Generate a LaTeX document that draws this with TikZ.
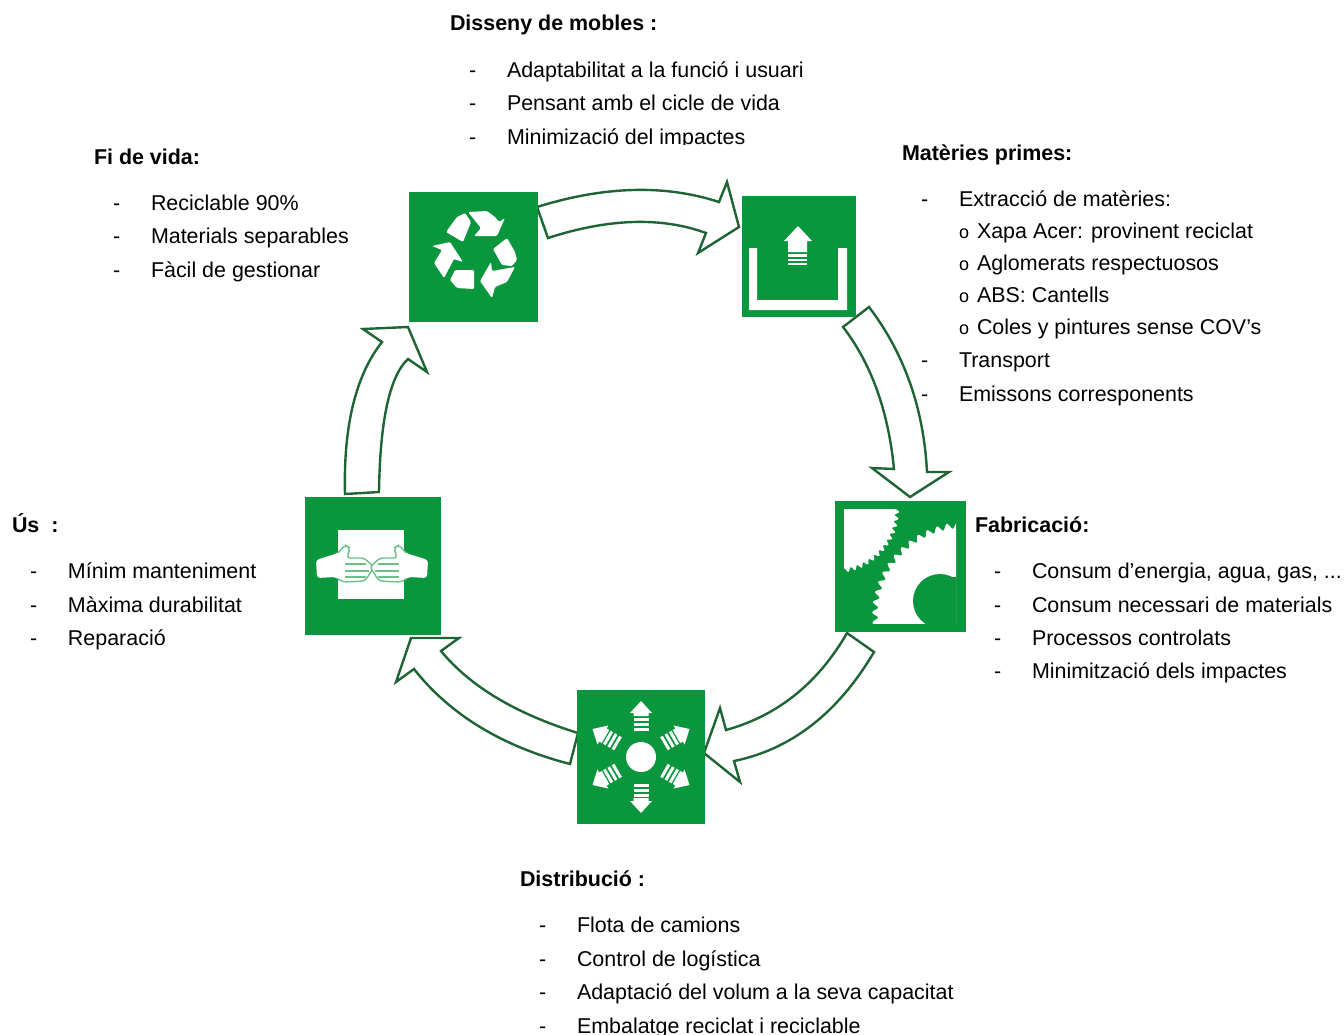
\documentclass[tikz,border=0pt]{standalone}
\usepackage{fontspec}
\setmainfont{Liberation Sans}
\definecolor{igreen}{RGB}{9,150,60}
\definecolor{arrowgreen}{RGB}{30,100,52}
\definecolor{linegreen}{RGB}{110,190,135}
\tikzset{
  iconbox/.style={fill=igreen,draw=none,inner sep=0pt,outer sep=0pt},
  blockarrow/.style={draw=arrowgreen,fill=white,line width=1.2pt,line join=miter},
  txt/.style={anchor=base west,inner sep=0pt,outer sep=0pt,font=\fontsize{10.72}{13}\selectfont,text=black},
  head/.style={txt,font=\fontsize{10.72}{13}\selectfont\bfseries},
  glyph/.style={fill=white,draw=none}
}
\newcommand{\handpic}{%
  \fill[glyph,rounded corners=1.5pt] (316,560) -- (338,553) -- (345,545) -- (350,548) -- (347,558) -- (364,558) -- (374,567) -- (365,581) -- (343,582) -- (335,577) -- (317,578) -- cycle;
  \draw[linegreen,line width=0.7pt,rounded corners=1.5pt] (338,553) -- (345,545) -- (350,548) -- (347,558) -- (364,558) -- (374,567) -- (365,581) -- (343,582) -- (338,579);
  \draw[linegreen,line width=0.7pt] (345,564) -- (366,564) (345,571) -- (369,571) (345,577) -- (366,577);
}
\newcommand{\bul}{\makebox[9pt][l]{\fontsize{9}{9}\selectfont o}}
\begin{document}
\begin{tikzpicture}[x=0.5pt,y=-0.5pt]
\useasboundingbox (0,0) rectangle (1344,1034);
\fill[white] (0,0) rectangle (1344,1034);

% block arrows
\draw[blockarrow] (537,207) .. controls (604.3,186) and (665,184.3) .. (719,202) -- (727,182) -- (739,227) -- (698,253) -- (706,233) .. controls (661.3,216.7) and (608.7,218.3) .. (548,238) -- cycle;
\draw[blockarrow] (869,307) .. controls (904.3,353.3) and (923.7,408.3) .. (927,472) -- (949,472) -- (910,497) -- (872,468) -- (894,469) .. controls (888.3,411) and (871.3,363.7) .. (843,327) -- cycle;
\draw[blockarrow] (874,652) .. controls (838,713) and (791.3,749.3) .. (734,761) -- (740,782) -- (704,753) -- (720,708) -- (726,730) .. controls (777.7,715.7) and (818,683.3) .. (847,633) -- cycle;
\draw[blockarrow] (570,764) .. controls (502,746.3) and (450,714.7) .. (414,669) -- (396,682) -- (411,638) -- (459,638) -- (441,651) .. controls (470,686.3) and (515.7,713.7) .. (578,733) -- cycle;
\draw[blockarrow] (345,494) .. controls (343.3,426) and (355.7,375.3) .. (382,342) -- (363,329) -- (408,327) -- (427,372) -- (408,359) .. controls (389.7,376) and (380,420.3) .. (379,492) -- cycle;

% icon squares
\node[iconbox,minimum width=64.5pt,minimum height=65pt] (recycle) at (473.5,257) {};
\node[iconbox,minimum width=57pt,minimum height=60.5pt] (materials) at (799,256.5) {};
\node[iconbox,minimum width=65.5pt,minimum height=65.5pt] (gears) at (900.5,566.5) {};
\node[iconbox,minimum width=64pt,minimum height=67pt] (distribution) at (641,757) {};
\node[iconbox,minimum width=68pt,minimum height=69pt] (hands) at (373,566) {};

% recycle glyph
\begin{scope}[rounded corners=0.6pt]
\fill[glyph] (446,232) -- (457,217) -- (465,213) -- (471,222) -- (463,242) -- cycle;
\fill[glyph] (468,212) -- (487,211) -- (495,217) -- (499,222) -- (505,218) -- (497,236) -- (474,236) -- (481,228) -- cycle;
\fill[glyph] (493,249) -- (507,238) -- (515,252) -- (517,260) -- (512,266) -- (502,265) -- cycle;
\fill[glyph] (515,267) -- (507,282) -- (495,287) -- (492,298) -- (480,281) -- (491,262) -- (492,271) -- cycle;
\fill[glyph] (474,270) -- (474,289) -- (457,288) -- (450,280) -- (455,270) -- cycle;
\fill[glyph] (432,246) -- (450,242) -- (463,262) -- (454,259) -- (444,278) -- (434,263) -- (442,250) -- cycle;
\end{scope}

% raw-material glyph
\fill[glyph] (749,248) -- (757,248) -- (757,300) -- (838,300) -- (838,248) -- (847,248) -- (847,310) -- (749,310) -- cycle;
\fill[glyph] (798,226) -- (812,241) -- (807,241) -- (807,252) -- (788,252) -- (788,241) -- (784,241) -- cycle;
\fill[glyph] (788,254) rectangle (807,257);
\fill[glyph] (788,258.5) rectangle (807,261);
\fill[glyph] (788,262.5) rectangle (807,265);

% gears glyph
\begin{scope}
\clip (844,509) rectangle (901,571);
\fill[glyph] (830,500) -- plot[domain=-5:95,samples=300,smooth] ({836+(61+2*sin(56*\x))*cos(\x)},{510+(61+2*sin(56*\x))*sin(\x)}) -- cycle;
\end{scope}
\begin{scope}
\clip (870,515) rectangle (956,623);
\fill[glyph] plot[domain=165:275,samples=300,smooth] ({965+(90+2.8*sin(56*\x))*cos(\x)},{615+(90+2.8*sin(56*\x))*sin(\x)}) -- (980,640) -- (860,640) -- cycle;
\fill[igreen] (940,601) circle[radius=27];
\fill[igreen] (940,577) rectangle (960,630);
\end{scope}

% distribution glyph
\fill[glyph] (641,757) circle[radius=15];
\foreach \a in {0,60,...,300}{
  \begin{scope}[shift={(641,757)},rotate=\a]
    \fill[glyph] (0,-56) -- (11,-44) -- (7.5,-44) -- (7.5,-41) -- (-7.5,-41) -- (-7.5,-44) -- (-11,-44) -- cycle;
    \fill[glyph] (-7.5,-39.5) rectangle (7.5,-36.5);
    \fill[glyph] (-7.5,-34.5) rectangle (7.5,-31.5);
    \fill[glyph] (-7.5,-29.5) rectangle (7.5,-26.5);
  \end{scope}
}

% hands glyph
\fill[glyph] (338,530) rectangle (404,599);
\handpic
\begin{scope}[xshift=372pt,xscale=-1]
\handpic
\end{scope}

% texts
\node[head] (t1h) at (450,30) {Disseny de mobles :};
\node[txt] (t1d1) at (469,77) {-};
\node[txt] (t1a) at (507,77) {Adaptabilitat a la funció i usuari};
\node[txt] (t1d2) at (469,110) {-};
\node[txt] (t1b) at (507,110) {Pensant amb el cicle de vida};
\node[txt] (t1d3) at (469,144) {-};
\node[txt] (t1c) at (507,144) {Minimizació del impactes};
\fill[white] (460,145) rectangle (780,155);

\node[head] (t2h) at (902,160) {Matèries primes:};
\node[txt] (t2d1) at (921,206) {-};
\node[txt] (t2a) at (959,206) {Extracció de matèries:};
\node[txt] (t2b) at (959,238) {\bul Xapa Acer: provinent reciclat};
\node[txt] (t2c) at (959,270) {\bul Aglomerats respectuosos};
\node[txt] (t2e) at (959,302) {\bul ABS: Cantells};
\node[txt] (t2f) at (959,334) {\bul Coles y pintures sense COV’s};
\node[txt] (t2d2) at (921,367) {-};
\node[txt] (t2g) at (959,367) {Transport};
\node[txt] (t2d3) at (921,401) {-};
\node[txt] (t2i) at (959,401) {Emissons corresponents};

\node[head] (t3h) at (94,164) {Fi de vida:};
\node[txt] (t3d1) at (113,210) {-};
\node[txt] (t3a) at (151,210) {Reciclable 90\%};
\node[txt] (t3d2) at (113,243) {-};
\node[txt] (t3b) at (151,243) {Materials separables};
\node[txt] (t3d3) at (113,277) {-};
\node[txt] (t3c) at (151,277) {Fàcil de gestionar};

\node[head] (t4h) at (975,532) {Fabricació:};
\node[txt] (t4d1) at (994,578) {-};
\node[txt] (t4a) at (1032,578) {Consum d’energia, agua, gas, ...};
\node[txt] (t4d2) at (994,612) {-};
\node[txt] (t4b) at (1032,612) {Consum necessari de materials};
\node[txt] (t4d3) at (994,645) {-};
\node[txt] (t4c) at (1032,645) {Processos controlats};
\node[txt] (t4d4) at (994,678) {-};
\node[txt] (t4e) at (1032,678) {Minimització dels impactes};

\node[head] (t5h) at (12,532) {Ús~ :};
\node[txt] (t5d1) at (30,578) {-};
\node[txt] (t5a) at (68,578) {Mínim manteniment};
\node[txt] (t5d2) at (30,612) {-};
\node[txt] (t5b) at (68,612) {Màxima durabilitat};
\node[txt] (t5d3) at (30,645) {-};
\node[txt] (t5c) at (68,645) {Reparació};

\node[head] (t6h) at (520,886) {Distribució :};
\node[txt] (t6d1) at (539,932) {-};
\node[txt] (t6a) at (577,932) {Flota de camions};
\node[txt] (t6d2) at (539,966) {-};
\node[txt] (t6b) at (577,966) {Control de logística};
\node[txt] (t6d3) at (539,999) {-};
\node[txt] (t6c) at (577,999) {Adaptació del volum a la seva capacitat};
\node[txt] (t6d4) at (539,1033) {-};
\node[txt] (t6e) at (577,1033) {Embalatge reciclat i reciclable};
\end{tikzpicture}
\end{document}
